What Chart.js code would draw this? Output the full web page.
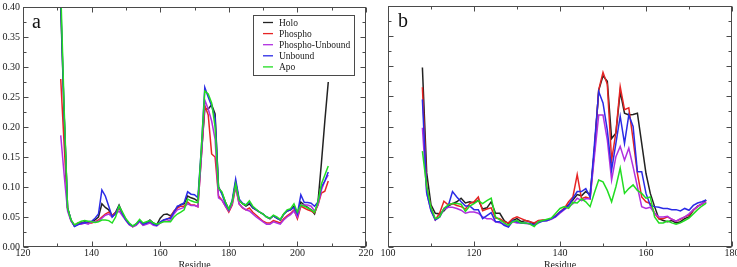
<!DOCTYPE html>
<html><head><meta charset="utf-8">
<script src="https://cdn.jsdelivr.net/npm/chart.js@4.4.0/dist/chart.umd.min.js"></script>
<style>
html,body{margin:0;padding:0;background:#fff;overflow:hidden;width:737px;height:267px;}
#wrap{position:relative;width:737px;height:267px;overflow:hidden;background:#fff;}
#ca{position:absolute;left:0;top:0;}
#cb{position:absolute;left:370px;top:0;}
</style></head><body>
<div id="wrap"><canvas id="ca" width="380" height="271"></canvas><canvas id="cb" width="367" height="271"></canvas></div>
<script>
// ---------- DATA ----------
const seriesNames = ['Holo', 'Phospho', 'Phospho-Unbound', 'Unbound', 'Apo'];
const seriesColors = ['#222222', '#e62424', '#b030e0', '#2a2ae6', '#22dd22'];

const xTicksA = [120, 140, 160, 180, 200, 220];
const xTicksB = [100, 120, 140, 160, 180];
const yTicks = [0.00, 0.05, 0.10, 0.15, 0.20, 0.25, 0.30, 0.35, 0.40];

const residuesA = [131,132,133,134,135,136,137,138,139,140,
  141,142,143,144,145,146,147,148,149,150,
  151,152,153,154,155,156,157,158,159,160,
  161,162,163,164,165,166,167,168,169,170,
  171,172,173,174,175,176,177,178,179,180,
  181,182,183,184,185,186,187,188,189,190,
  191,192,193,194,195,196,197,198,199,200,
  201,202,203,204,205,206,207,208,209];

const holoA = [0.400,0.220,0.065,0.045,0.035,0.038,0.040,0.042,0.040,0.042,
  0.045,0.050,0.072,0.066,0.062,0.052,0.058,0.070,0.056,0.046,
  0.038,0.034,0.038,0.044,0.038,0.040,0.045,0.040,0.037,0.048,
  0.054,0.055,0.052,0.058,0.066,0.071,0.072,0.085,0.082,0.080,
  0.076,0.155,0.230,0.230,0.237,0.222,0.100,0.090,0.075,0.063,
  0.075,0.108,0.078,0.072,0.068,0.072,0.065,0.062,0.058,0.055,
  0.050,0.047,0.052,0.048,0.045,0.055,0.060,0.062,0.068,0.056,
  0.075,0.070,0.066,0.062,0.055,0.075,0.140,0.210,0.275];
const phosphoA = [0.280,0.170,0.063,0.044,0.036,0.040,0.040,0.040,0.040,0.040,
  0.042,0.045,0.050,0.055,0.058,0.053,0.057,0.065,0.055,0.045,
  0.038,0.034,0.037,0.043,0.037,0.039,0.042,0.038,0.036,0.040,
  0.045,0.046,0.050,0.060,0.065,0.068,0.068,0.075,0.070,0.070,
  0.067,0.150,0.236,0.220,0.155,0.150,0.085,0.078,0.068,0.058,
  0.070,0.100,0.072,0.065,0.062,0.065,0.058,0.053,0.048,0.043,
  0.040,0.040,0.044,0.042,0.040,0.047,0.052,0.056,0.062,0.047,
  0.068,0.065,0.062,0.060,0.057,0.070,0.090,0.093,0.110];
const phosphoUnboundA = [0.186,0.120,0.060,0.043,0.035,0.038,0.038,0.040,0.038,0.042,
  0.042,0.043,0.048,0.053,0.055,0.050,0.055,0.060,0.052,0.044,
  0.037,0.034,0.036,0.042,0.036,0.038,0.040,0.036,0.035,0.040,
  0.043,0.043,0.045,0.055,0.062,0.064,0.066,0.072,0.069,0.069,
  0.067,0.150,0.245,0.230,0.210,0.180,0.082,0.078,0.068,0.060,
  0.072,0.102,0.072,0.066,0.062,0.060,0.055,0.050,0.046,0.042,
  0.038,0.038,0.042,0.040,0.038,0.045,0.050,0.054,0.060,0.050,
  0.070,0.070,0.070,0.068,0.060,0.070,0.095,0.110,0.120];
const unboundA = [0.410,0.220,0.065,0.045,0.034,0.037,0.040,0.040,0.042,0.043,
  0.048,0.055,0.095,0.085,0.068,0.050,0.056,0.068,0.055,0.045,
  0.038,0.035,0.038,0.044,0.038,0.040,0.043,0.038,0.036,0.042,
  0.045,0.047,0.048,0.058,0.068,0.070,0.074,0.092,0.088,0.087,
  0.082,0.165,0.266,0.250,0.235,0.215,0.100,0.088,0.072,0.062,
  0.078,0.113,0.080,0.073,0.070,0.075,0.066,0.062,0.058,0.055,
  0.050,0.048,0.052,0.048,0.045,0.054,0.060,0.062,0.066,0.055,
  0.087,0.074,0.074,0.073,0.068,0.075,0.100,0.110,0.125];
const apoA = [0.430,0.230,0.065,0.045,0.037,0.040,0.043,0.044,0.043,0.042,
  0.041,0.042,0.045,0.045,0.044,0.040,0.050,0.068,0.058,0.047,
  0.040,0.035,0.039,0.046,0.040,0.042,0.044,0.040,0.038,0.040,
  0.042,0.042,0.042,0.050,0.055,0.058,0.062,0.080,0.077,0.075,
  0.074,0.165,0.260,0.255,0.240,0.200,0.098,0.092,0.075,0.063,
  0.076,0.105,0.078,0.072,0.070,0.077,0.068,0.063,0.058,0.055,
  0.050,0.048,0.053,0.050,0.046,0.055,0.062,0.064,0.072,0.058,
  0.070,0.068,0.065,0.062,0.058,0.075,0.105,0.120,0.135];

const residuesB = [108,109,110,111,112,113,114,115,116,117,
  118,119,120,121,122,123,124,125,126,127,
  128,129,130,131,132,133,134,135,136,137,
  138,139,140,141,142,143,144,145,146,147,
  148,149,150,151,152,153,154,155,156,157,
  158,159,160,161,162,163,164,165,166,167,
  168,169,170,171,172,173,174];

const holoB = [0.298,0.123,0.070,0.056,0.055,0.060,0.068,0.072,0.075,0.081,
  0.073,0.075,0.073,0.078,0.063,0.065,0.075,0.056,0.056,0.044,
  0.039,0.044,0.047,0.042,0.044,0.042,0.038,0.043,0.044,0.044,
  0.047,0.051,0.058,0.064,0.070,0.078,0.087,0.085,0.092,0.087,
  0.160,0.260,0.284,0.275,0.180,0.189,0.258,0.222,0.219,0.220,
  0.222,0.172,0.122,0.089,0.067,0.047,0.044,0.042,0.044,0.040,
  0.042,0.047,0.050,0.061,0.068,0.071,0.078];
const phosphoB = [0.265,0.100,0.065,0.045,0.056,0.076,0.070,0.072,0.069,0.067,
  0.063,0.072,0.075,0.083,0.060,0.063,0.065,0.048,0.047,0.042,
  0.040,0.047,0.050,0.047,0.044,0.042,0.040,0.044,0.045,0.045,
  0.047,0.052,0.058,0.064,0.075,0.083,0.120,0.080,0.083,0.080,
  0.160,0.261,0.290,0.270,0.144,0.190,0.266,0.228,0.231,0.178,
  0.122,0.083,0.075,0.072,0.056,0.047,0.047,0.050,0.046,0.043,
  0.046,0.050,0.053,0.061,0.067,0.072,0.075];
const phosphoUnboundB = [0.198,0.090,0.060,0.045,0.050,0.062,0.066,0.066,0.064,0.061,
  0.056,0.058,0.058,0.056,0.050,0.047,0.047,0.042,0.040,0.038,
  0.034,0.042,0.040,0.040,0.039,0.038,0.036,0.042,0.043,0.044,
  0.046,0.050,0.056,0.062,0.067,0.072,0.081,0.077,0.080,0.080,
  0.150,0.219,0.219,0.178,0.111,0.150,0.167,0.144,0.164,0.133,
  0.100,0.067,0.064,0.066,0.056,0.050,0.050,0.051,0.046,0.043,
  0.047,0.050,0.055,0.062,0.067,0.072,0.075];
const unboundB = [0.245,0.090,0.060,0.045,0.050,0.064,0.068,0.092,0.083,0.075,
  0.068,0.068,0.062,0.062,0.047,0.052,0.057,0.042,0.042,0.036,
  0.033,0.044,0.042,0.040,0.040,0.039,0.036,0.040,0.043,0.044,
  0.047,0.051,0.058,0.063,0.069,0.081,0.092,0.092,0.097,0.083,
  0.170,0.258,0.239,0.194,0.128,0.172,0.217,0.172,0.219,0.200,
  0.125,0.125,0.089,0.069,0.067,0.066,0.064,0.064,0.062,0.062,
  0.060,0.064,0.061,0.069,0.073,0.075,0.078];
const apoB = [0.159,0.100,0.065,0.047,0.050,0.064,0.070,0.072,0.072,0.071,
  0.059,0.068,0.072,0.077,0.072,0.077,0.081,0.050,0.045,0.040,
  0.036,0.042,0.044,0.040,0.040,0.038,0.034,0.042,0.044,0.046,
  0.048,0.056,0.064,0.067,0.064,0.074,0.073,0.080,0.075,0.067,
  0.090,0.111,0.108,0.094,0.075,0.100,0.131,0.089,0.097,0.103,
  0.094,0.089,0.081,0.083,0.050,0.040,0.040,0.043,0.040,0.038,
  0.040,0.044,0.048,0.055,0.062,0.068,0.073];

// ---------- STYLE ----------
const FONT = 'Liberation Serif';
const CANVAS_H = 271;
const PLOT_BOTTOM = 247;

const framePlugin = {
  id: 'frame',
  afterDraw(chart, args, opts) {
    const {ctx, chartArea: a, scales: {x, y}} = chart;
    ctx.save();
    ctx.strokeStyle = '#4a4a4a';
    ctx.lineWidth = 1;
    const L = Math.round(a.left) + 0.5, R = Math.round(a.right) - 0.5;
    const T = Math.round(a.top) + 0.5, B = Math.round(a.bottom) - 0.5;
    ctx.strokeRect(L, T, R - L, B - T);
    const seg = (x1, y1, x2, y2) => { ctx.beginPath(); ctx.moveTo(x1, y1); ctx.lineTo(x2, y2); ctx.stroke(); };
    const MAJ = 5, MIN = 3;
    x.ticks.forEach((t, i) => {
      const px = Math.round(x.getPixelForValue(t.value)) + 0.5;
      seg(px, B, px, B - MAJ); seg(px, T, px, T + MAJ);
      if (i < x.ticks.length - 1) {
        const m = Math.round(x.getPixelForValue((t.value + x.ticks[i + 1].value) / 2)) + 0.5;
        seg(m, B, m, B - MIN); seg(m, T, m, T + MIN);
      }
    });
    y.ticks.forEach((t, i) => {
      const py = Math.round(y.getPixelForValue(t.value)) + 0.5;
      seg(L, py, L + MAJ, py); seg(R, py, R - MAJ, py);
      if (i < y.ticks.length - 1) {
        const m = Math.round(y.getPixelForValue((t.value + y.ticks[i + 1].value) / 2)) + 0.5;
        seg(L, m, L + MIN, m); seg(R, m, R - MIN, m);
      }
    });
    // panel letter
    ctx.fillStyle = '#111';
    ctx.font = '20px "' + FONT + '"';
    ctx.textBaseline = 'alphabetic';
    ctx.textAlign = 'left';
    ctx.fillText(opts.letter, a.left + opts.letterDx, a.top + 21);
    // legend
    if (opts.legend) {
      const bx = 253.5, by = 15.5, bw = 101, bh = 60;
      ctx.fillStyle = '#fff';
      ctx.fillRect(bx, by, bw, bh);
      ctx.strokeStyle = '#4a4a4a';
      ctx.strokeRect(bx, by, bw, bh);
      ctx.font = '9.5px "' + FONT + '"';
      ctx.textBaseline = 'middle';
      chart.data.datasets.forEach((ds, i) => {
        const yy = 22.5 + i * 11.1;
        ctx.strokeStyle = ds.borderColor;
        ctx.lineWidth = 1.3;
        seg(263, yy, 273, yy);
        ctx.fillStyle = '#1a1a1a';
        ctx.fillText(ds.label, 279, yy + 0.5);
      });
    }
    ctx.restore();
  }
};

function makeDatasets(arrs) {
  return arrs.map((d, i) => ({
    label: seriesNames[i],
    data: d,
    borderColor: seriesColors[i],
    backgroundColor: seriesColors[i],
    borderWidth: 1.5,
    pointRadius: 0,
    tension: 0,
    fill: false,
    order: seriesNames.length - 1 - i
  }));
}

function makeChart(id, labels, arrs, xTicks, opts) {
  return new Chart(document.getElementById(id), {
    type: 'line',
    data: { labels: labels, datasets: makeDatasets(arrs) },
    options: {
      responsive: false,
      animation: false,
      events: [],
      layout: { padding: { left: 0, top: opts.top, right: opts.right, bottom: 0 } },
      plugins: {
        legend: { display: false },
        tooltip: { enabled: false },
        frame: { letter: opts.letter, letterDx: opts.letterDx, legend: opts.legend }
      },
      scales: {
        x: {
          type: 'linear',
          min: xTicks[0], max: xTicks[xTicks.length - 1],
          afterBuildTicks(s) { s.ticks = xTicks.map(v => ({ value: v })); },
          afterFit(s) { s.height = CANVAS_H - PLOT_BOTTOM; s.paddingLeft = 0; s.paddingRight = 0; },
          grid: { display: false, drawTicks: false },
          border: { display: false },
          ticks: { color: '#1a1a1a', font: { family: FONT, size: 10 }, padding: 0, maxRotation: 0, autoSkip: false,
                   callback: v => String(v) },
          title: { display: true, text: 'Residue', color: '#1a1a1a', font: { family: FONT, size: 10 }, padding: 0 }
        },
        y: {
          type: 'linear',
          min: 0, max: 0.4,
          afterBuildTicks(s) { s.ticks = yTicks.map(v => ({ value: v })); },
          afterFit(s) { s.width = opts.yWidth; s.paddingTop = 0; s.paddingBottom = 0; },
          grid: { display: false, drawTicks: false },
          border: { display: false },
          ticks: { display: opts.yLabels, color: '#1a1a1a', font: { family: FONT, size: 10 }, padding: 3,
                   autoSkip: false, callback: v => Number(v).toFixed(2) }
        }
      }
    },
    plugins: [framePlugin]
  });
}

makeChart('ca', residuesA, [holoA, phosphoA, phosphoUnboundA, unboundA, apoA], xTicksA,
  { top: 7, right: 14, yWidth: 23, yLabels: true, letter: 'a', letterDx: 9, legend: true });
makeChart('cb', residuesB, [holoB, phosphoB, phosphoUnboundB, unboundB, apoB], xTicksB,
  { top: 6, right: 5, yWidth: 18, yLabels: false, letter: 'b', letterDx: 10, legend: false });
</script>
</body></html>
